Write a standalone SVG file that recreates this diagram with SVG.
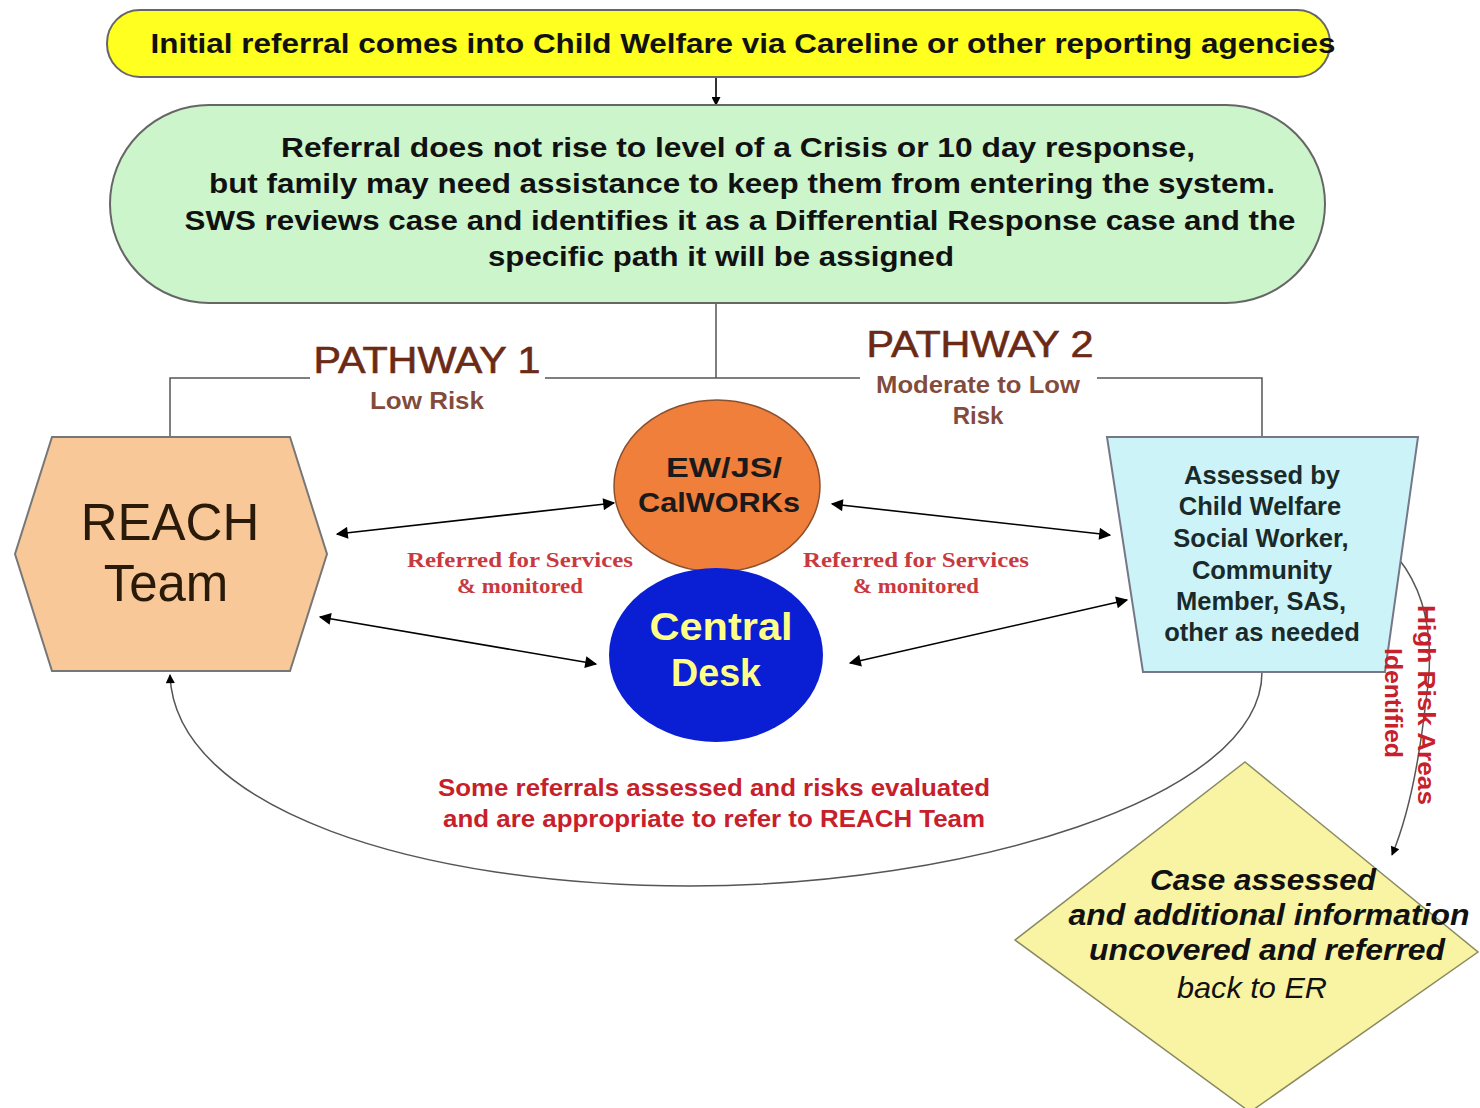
<svg xmlns="http://www.w3.org/2000/svg" width="1480" height="1108" viewBox="0 0 1480 1108">
<defs>
<style>
.bold{font-family:"Liberation Sans",Arial,sans-serif;font-weight:bold}
.reg{font-family:"Liberation Sans",Arial,sans-serif}
.conn{fill:none;stroke:#000;stroke-width:1.6}
.thin{fill:none;stroke:#555;stroke-width:1.5}
.red{fill:#c8202a}
.brown{fill:#6b2a16}
.svc{font-family:"Liberation Serif","Times New Roman",serif;font-weight:bold;font-size:22px;fill:#c83a40;text-anchor:middle}
</style>
<marker id="ah" viewBox="0 0 10 10" refX="9" refY="5" markerWidth="18" markerHeight="12" markerUnits="userSpaceOnUse" orient="auto-start-reverse">
<path d="M0,0 L10,5 L0,10 z" fill="#000"/>
</marker>
<marker id="ahs" viewBox="0 0 10 10" refX="9" refY="5" markerWidth="12" markerHeight="9" markerUnits="userSpaceOnUse" orient="auto-start-reverse">
<path d="M0,0 L10,5 L0,10 z" fill="#000"/>
</marker>
</defs>
<rect width="1480" height="1108" fill="#fff"/>

<g id="connectors">
<line x1="716" y1="77" x2="716" y2="105" class="conn" stroke-width="1.2" marker-end="url(#ahs)"/>
<polyline points="170,437 170,378 310,378" class="thin"/>
<line x1="545" y1="378" x2="860" y2="378" class="thin"/>
<polyline points="1097,378 1262,378 1262,437" class="thin"/>
<line x1="716" y1="303" x2="716" y2="378" class="thin"/>
<line x1="337" y1="534" x2="614" y2="503" class="conn" marker-start="url(#ah)" marker-end="url(#ah)"/>
<line x1="320" y1="617" x2="596" y2="664" class="conn" marker-start="url(#ah)" marker-end="url(#ah)"/>
<line x1="832" y1="504" x2="1110" y2="535" class="conn" marker-start="url(#ah)" marker-end="url(#ah)"/>
<line x1="850" y1="663" x2="1127" y2="600" class="conn" stroke-width="2" marker-start="url(#ah)" marker-end="url(#ah)"/>
<path d="M1262,672 C1262,800 960,886 690,886 C420,886 175,810 170,675" class="thin" stroke="#444" marker-end="url(#ahs)"/>
<path d="M1398,558 Q1440,610 1426,700 Q1415,800 1392,855" class="thin" stroke="#444" marker-end="url(#ahs)"/>
</g>

<g id="top">
<rect x="107" y="10" width="1223" height="67" rx="33" fill="#ffff20" stroke="#666" stroke-width="2"/>
<text x="743" y="53" class="bold" font-size="27" text-anchor="middle" textLength="1185" lengthAdjust="spacingAndGlyphs" fill="#111">Initial referral comes into Child Welfare via Careline or other reporting agencies</text>
</g>

<g id="review">
<rect x="110" y="105" width="1215" height="198" rx="99" fill="#ccf5cc" stroke="#666" stroke-width="2"/>
<g class="bold" font-size="27" text-anchor="middle" fill="#111">
<text x="738" y="157" textLength="914" lengthAdjust="spacingAndGlyphs">Referral does not rise to level of a Crisis or 10 day  response,</text>
<text x="742" y="193" textLength="1066" lengthAdjust="spacingAndGlyphs">but family may need assistance to keep them from entering the system.</text>
<text x="740" y="230" textLength="1111" lengthAdjust="spacingAndGlyphs">SWS reviews case and identifies it as a Differential Response case and the</text>
<text x="721" y="266" textLength="466" lengthAdjust="spacingAndGlyphs">specific path it will be assigned</text>
</g>
</g>

<g id="pathway1">
<text x="427" y="373" class="reg brown" font-size="36" text-anchor="middle" stroke="#6b2a16" stroke-width="0.6" textLength="227" lengthAdjust="spacingAndGlyphs">PATHWAY 1</text>
<text x="427" y="409" class="bold brown" font-size="24" text-anchor="middle" fill-opacity="0.85" textLength="114" lengthAdjust="spacingAndGlyphs">Low Risk</text>
</g>
<g id="pathway2">
<text x="980" y="357" class="reg brown" font-size="36" text-anchor="middle" stroke="#6b2a16" stroke-width="0.6" textLength="227" lengthAdjust="spacingAndGlyphs">PATHWAY 2</text>
<text x="978" y="393" class="bold brown" font-size="24" text-anchor="middle" fill-opacity="0.85" textLength="204" lengthAdjust="spacingAndGlyphs">Moderate to Low</text>
<text x="978" y="424" class="bold brown" font-size="24" text-anchor="middle" fill-opacity="0.85">Risk</text>
</g>

<g id="reach">
<polygon points="15,554 52,437 290,437 327,554 290,671 52,671" fill="#f8c898" stroke="#777" stroke-width="2"/>
<text x="170" y="540" class="reg" font-size="51" text-anchor="middle" fill="#2a1a0a">REACH</text>
<text x="166" y="601" class="reg" font-size="51" text-anchor="middle" fill="#2a1a0a">Team</text>
</g>

<g id="ewjs">
<ellipse cx="717" cy="486" rx="103" ry="86" fill="#f07f3c" stroke="#8a5030" stroke-width="1.5"/>
<text x="724" y="477" class="bold" font-size="28" text-anchor="middle" fill="#1a1a1a" textLength="116" lengthAdjust="spacingAndGlyphs">EW/JS/</text>
<text x="719" y="512" class="bold" font-size="28" text-anchor="middle" fill="#1a1a1a" textLength="162" lengthAdjust="spacingAndGlyphs">CalWORKs</text>
</g>

<g id="central">
<ellipse cx="716" cy="655" rx="107" ry="87" fill="#0a1fd4"/>
<text x="721" y="640" class="bold" font-size="38" text-anchor="middle" fill="#ffff88" textLength="143" lengthAdjust="spacingAndGlyphs">Central</text>
<text x="716" y="686" class="bold" font-size="38" text-anchor="middle" fill="#ffff88" textLength="90" lengthAdjust="spacingAndGlyphs">Desk</text>
</g>

<g id="assessed">
<polygon points="1107,437 1418,437 1385,672 1143,672" fill="#ccf4f8" stroke="#778" stroke-width="2"/>
<g class="bold" font-size="25.5" text-anchor="middle" fill="#1a2a2a">
<text x="1262" y="484">Assessed by</text>
<text x="1260" y="515">Child Welfare</text>
<text x="1261" y="547">Social Worker,</text>
<text x="1262" y="579">Community</text>
<text x="1261" y="610">Member, SAS,</text>
<text x="1262" y="641">other as needed</text>
</g>
</g>

<g id="labels">
<text x="520" y="567" class="svc" textLength="226" lengthAdjust="spacingAndGlyphs">Referred  for Services</text>
<text x="520" y="593" class="svc" textLength="126" lengthAdjust="spacingAndGlyphs">&amp; monitored</text>
<text x="916" y="567" class="svc" textLength="226" lengthAdjust="spacingAndGlyphs">Referred  for Services</text>
<text x="916" y="593" class="svc" textLength="126" lengthAdjust="spacingAndGlyphs">&amp; monitored</text>
<text x="714" y="796" class="bold red" font-size="24" text-anchor="middle" textLength="552" lengthAdjust="spacingAndGlyphs">Some referrals assessed and risks evaluated</text>
<text x="714" y="827" class="bold red" font-size="24" text-anchor="middle" textLength="542" lengthAdjust="spacingAndGlyphs">and are appropriate to refer to REACH Team</text>
<text transform="translate(1418,705) rotate(90)" class="bold red" font-size="23" text-anchor="middle" textLength="200" lengthAdjust="spacingAndGlyphs">High Risk Areas</text>
<text transform="translate(1385,703) rotate(90)" class="bold red" font-size="23" text-anchor="middle" textLength="110" lengthAdjust="spacingAndGlyphs">Identified</text>
</g>

<g id="diamond">
<polygon points="1245,762 1478,952 1250,1112 1015,940" fill="#f8f4a4" stroke="#8a8a60" stroke-width="1.5"/>
<g class="bold" font-size="30" font-style="italic" text-anchor="middle" fill="#111">
<text x="1263" y="890" textLength="226" lengthAdjust="spacingAndGlyphs">Case assessed</text>
<text x="1269" y="925" textLength="401" lengthAdjust="spacingAndGlyphs">and additional information</text>
<text x="1267" y="960" textLength="356" lengthAdjust="spacingAndGlyphs">uncovered and referred</text>
</g>
<text x="1252" y="998" class="reg" font-size="30" font-style="italic" text-anchor="middle" fill="#111" textLength="150" lengthAdjust="spacingAndGlyphs">back to ER</text>
</g>
</svg>
